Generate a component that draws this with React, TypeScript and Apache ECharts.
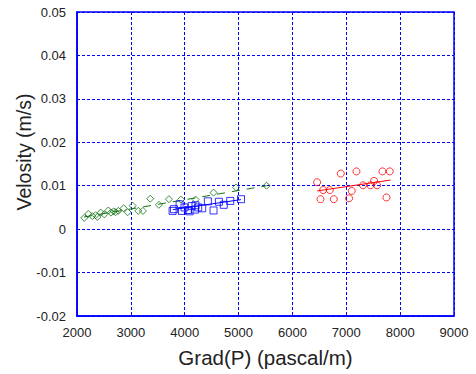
import React, { useEffect, useRef } from "react";
import * as echarts from "echarts";

// Pressure gradient (pascal/m) vs velocity (m/s), three measurement runs
const greenPoints: [number, number][] = [
  [2135, 0.0026], [2210, 0.0035], [2285, 0.0030], [2345, 0.0032], [2377, 0.0028],
  [2440, 0.0038], [2507, 0.0034], [2582, 0.0043], [2631, 0.0038], [2680, 0.0041],
  [2718, 0.0039], [2767, 0.0042], [2866, 0.0048], [2940, 0.0039], [3033, 0.0054],
  [3138, 0.0042], [3224, 0.0042], [3360, 0.0070], [3521, 0.0056], [3707, 0.0069],
  [3930, 0.0068], [4202, 0.0068], [4536, 0.0084], [4955, 0.0096], [5519, 0.0100],
];
const bluePoints: [number, number][] = [
  [3775, 0.0042], [3800, 0.0046], [3905, 0.0057], [3950, 0.0042], [3995, 0.0050],
  [4060, 0.0044], [4091, 0.0041], [4128, 0.0053], [4189, 0.0045], [4200, 0.0055],
  [4251, 0.0050], [4325, 0.0048], [4430, 0.0064], [4535, 0.0043], [4635, 0.0063],
  [4725, 0.0056], [4845, 0.0065], [5045, 0.0069],
];
const redPoints: [number, number][] = [
  [6458, 0.0108], [6521, 0.0069], [6570, 0.0090], [6694, 0.0090], [6768, 0.0069],
  [6898, 0.0128], [7052, 0.0071], [7102, 0.0088], [7189, 0.0133], [7312, 0.0101],
  [7449, 0.0101], [7516, 0.0111], [7572, 0.0101], [7671, 0.0133], [7746, 0.0073],
  [7807, 0.0133],
];

// Linear trend lines (end points) for each run
const greenTrend: [number, number][] = [[2130, 0.0028], [5520, 0.0100]];
const blueTrend: [number, number][] = [[3780, 0.0045], [5045, 0.0068]];
const redTrend: [number, number][] = [[6460, 0.0088], [7820, 0.0113]];

const xTicks = { min: 2000, max: 9000, interval: 1000 };
const yTicks = { min: -0.02, max: 0.05, interval: 0.01 };
const xTitle = "Grad(P) (pascal/m)";
const yTitle = "Velosity (m/s)";

const GREEN = "#127312";
const BLUE = "#0000ff";
const RED = "#ff0000";
const TEXT = "#222222";
const FONT = "'Liberation Sans', Arial, sans-serif";

export default function App() {
  const ref = useRef<HTMLDivElement>(null);

  useEffect(() => {
    if (!ref.current) return;
    const chart = echarts.init(ref.current, undefined, { renderer: "svg" });

    const scatter = (data: [number, number][], symbol: string, color: string) => ({
      type: "scatter",
      data,
      symbol,
      symbolSize: 7,
      itemStyle: { color: "transparent", borderColor: color, borderWidth: 1 },
      z: 3,
    });
    const trend = (data: [number, number][], color: string, type: any) => ({
      type: "line",
      data,
      symbol: "none",
      lineStyle: { color, width: 1, type },
      z: 2,
    });
    const grid = { show: true, lineStyle: { color: BLUE, width: 1, type: [3, 2] } };

    chart.setOption({
      animation: false,
      backgroundColor: "#ffffff",
      textStyle: { fontFamily: FONT },
      grid: {
        left: 77,
        right: 22,
        top: 12,
        bottom: 58,
        show: true,
        borderColor: BLUE,
        borderWidth: 1.5,
      },
      graphic: [
        {
          type: "text",
          x: 24,
          y: 152,
          rotation: Math.PI / 2,
          style: {
            text: yTitle,
            fontSize: 19.5,
            fontFamily: FONT,
            fill: TEXT,
            align: "center",
            verticalAlign: "middle",
          },
        },
      ],
      xAxis: {
        type: "value",
        ...xTicks,
        name: xTitle,
        nameLocation: "middle",
        nameGap: 31,
        nameTextStyle: { fontSize: 20.5, color: TEXT, fontFamily: FONT },
        axisLine: { show: true, onZero: false, lineStyle: { color: BLUE, width: 1.5 } },
        axisTick: { show: false },
        axisLabel: {
          color: TEXT,
          fontSize: 13,
          margin: 10,
          fontFamily: FONT,
          formatter: (v: number) => String(v),
        },
        splitLine: grid,
      },
      yAxis: {
        type: "value",
        ...yTicks,
        axisLine: { show: true, onZero: false, lineStyle: { color: BLUE, width: 1.5 } },
        axisTick: { show: false },
        axisLabel: {
          color: TEXT,
          fontSize: 13,
          margin: 11,
          fontFamily: FONT,
          formatter: (v: number) => {
            const r = Math.round(v * 100) / 100;
            return r === 0 ? "0" : r.toFixed(2);
          },
        },
        splitLine: grid,
      },
      series: [
        trend(greenTrend, GREEN, [8, 7]),
        trend(blueTrend, BLUE, "solid"),
        trend(redTrend, RED, "solid"),
        scatter(greenPoints, "diamond", GREEN),
        scatter(bluePoints, "rect", BLUE),
        scatter(redPoints, "circle", RED),
      ],
    });

    return () => chart.dispose();
  }, []);

  return <div ref={ref} style={{ width: 476, height: 374, position: "absolute", left: 0, top: 0 }} />;
}
